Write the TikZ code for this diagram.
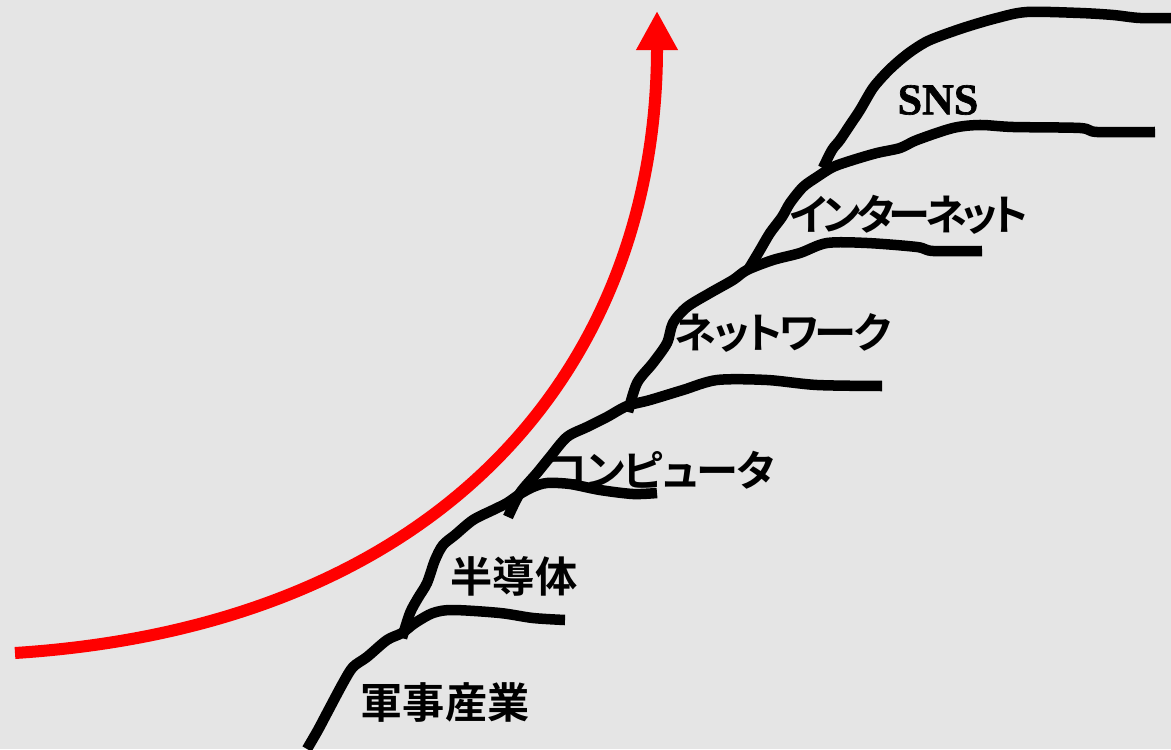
\documentclass[tikz,border=0pt]{standalone}
\usepackage{fontspec}
\newfontfamily\jpfont[RawFeature=+palt]{Noto Sans CJK JP Bold}
\newfontfamily\snsfont[FakeBold=1.5]{Liberation Serif Bold}
\usetikzlibrary{arrows.meta}
\definecolor{bggray}{RGB}{229,229,229}
\tikzset{ridge/.style={line width=0.105cm, line join=round}, field/.style={inner sep=0pt, text=black, font=\jpfont\fontsize{12}{14}\selectfont}, snslabel/.style={inner sep=0pt, text=black, font=\snsfont\fontsize{12.5}{14}\selectfont}, trend/.style={red, line width=0.12cm, -{Triangle[length=0.39cm,width=0.39cm]}}}
\newcommand{\kana}[2]{\addfontfeature{LetterSpace=#1}#2}

\begin{document}
\begin{tikzpicture}[x=0.01cm,y=-0.01cm]
    \fill[bggray] (0,0) rectangle (1171,749);
    \useasboundingbox (0,0) rectangle (1171,749);
    \coordinate (R0) at (15,653);
    \coordinate (R1) at (657,11);
    \draw[trend] (R0) .. controls (450,625) and (657,360) .. (R1);
    \draw[ridge] plot[smooth, tension=0.5] coordinates {(307,749) (318,730) (327,713) (343,683) (353,667) (367,657) (387,640) (402,633) (415,623) (433,613) (453,610) (500,613) (533,618) (565,620)};
    \draw[ridge] plot[smooth, tension=0.5] coordinates {(402,638) (410,613) (418,598) (427,583) (435,560) (443,545) (455,535) (473,520) (493,510) (507,503) (520,494) (533,487) (547,483) (570,484) (600,490) (633,494) (657,493)};
    \draw[ridge] plot[smooth, tension=0.5] coordinates {(508,517) (520,493) (537,473) (550,457) (567,437) (587,427) (607,417) (627,406) (650,400) (683,390) (717,380) (767,380) (817,385) (882,386)};
    \draw[ridge] plot[smooth, tension=0.5] coordinates {(628,412) (637,383) (653,363) (667,343) (673,323) (687,307) (710,293) (733,280) (747,270) (773,260) (800,253) (827,243) (867,243) (917,247) (933,251) (982,251)};
    \draw[ridge] plot[smooth, tension=0.5] coordinates {(748,270) (760,250) (770,233) (782,217) (790,203) (803,187) (817,177) (833,167) (853,160) (877,153) (900,148) (917,140) (953,128) (980,125) (1013,127) (1080,128) (1097,132) (1155,132)};
    \draw[ridge] plot[smooth, tension=0.5] coordinates {(823,168) (832,150) (840,140) (850,125) (860,110) (873,88) (887,72) (900,60) (913,50) (930,40) (963,28) (997,18) (1027,12) (1080,13) (1113,15) (1140,18) (1175,18)};
    \node[field] (T1) at (445,702) {軍事産業};
    \node[field] (T2) at (514,576) {半導体};
    \node[field] (T3) at (661,470) {\kana{-3}{コンピュータ}};
    \node[field] (T4) at (783,333) {\kana{-7}{ネットワーク}};
    \node[field] (T5) at (909,215) {\kana{-12}{インターネット}};
    \node[snslabel] (T6) at (938,100) {SNS};
\end{tikzpicture}
\end{document}
